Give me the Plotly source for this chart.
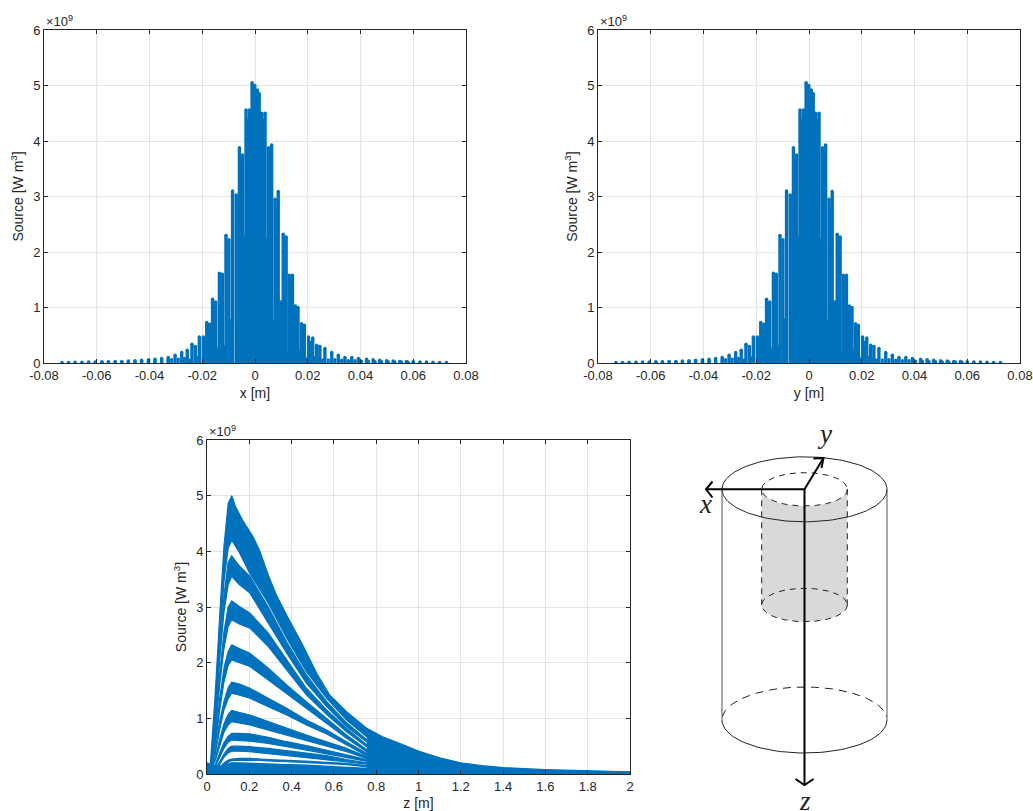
import numpy as np
import plotly.graph_objects as go

BLUE = "#0072BD"
INK = "#262626"
GRID = "#e4e4e4"
FONT = "Liberation Sans"

# ---- x / y profiles (same values on both top panels), Source in 1e9 W/m3
col_x = [-.0732,-.0707,-.0682,-.0656,-.0631,-.0606,-.0581,-.0556,-.0530,-.0505,-.0480,-.0455,-.0430,-.0404,
         -.0379,-.0354,-.0329,-.0303,-.0278,-.0257,-.0239,-.0226,-.0211,-.0196,-.0183,-.0172,-.0161,-.0149,
         -.0135,-.0124,-.0110,-.0099,-.0085,-.0071,-.0059,-.0047,-.0034,-.0021,-.0011,-.0001,.0009,.0016,
         .0025,.0038,.0051,.0063,.0076,.0088,.0107,.0118,.0130,.0142,.0153,.0163,.0176,.0187,.0203,.0219,
         .0234,.0246,.0265,.0291,.0316,.0341,.0367,.0392,.0423,.0448,.0473,.0499,.0524,.0549,.0574,.0600,
         .0625,.0650,.0675,.0700,.0726]
col_h = [.010,.012,.014,.015,.017,.020,.022,.025,.028,.030,.035,.040,.050,.060,
         .070,.080,.100,.140,.190,.230,.340,.300,.470,.470,.730,.700,1.15,1.10,
         1.62,1.60,2.30,2.22,3.10,3.03,3.88,3.75,4.56,4.56,5.05,5.00,4.92,4.85,
         4.50,4.50,3.88,3.93,2.95,3.09,2.32,2.27,1.58,1.58,1.03,1.00,.710,.680,.470,.450,
         .320,.300,.260,.190,.140,.100,.100,.080,.070,.060,.050,.040,.035,.030,.028,.025,
         .020,.018,.015,.012,.010]
fill_x = [-.0580,-.0555,-.0530,-.0505,-.0480,-.0455,-.0430,-.0404,-.0379,-.0354,-.0329,-.0316,-.0291,-.0268,
          -.0247,-.0217,-.0188,-.0166,-.0142,-.0117,-.0091,-.0065,-.0041,-.0028,-.0016,.0004,.0020,.0031,
          .0044,.0070,.0082,.0097,.0112,.0124,.0136,.0148,.0158,.0170,.0195,.0211,.0226,.0240,.0256,.0278,
          .0303,.0329,.0354,.0379,.0404,.0430,.0455,.0480,.0505,.0530,.0555,.0580]
fill_h = [.015,.018,.020,.020,.022,.025,.030,.030,.035,.040,.050,.060,.070,.080,
          .080,.120,.200,.220,.280,.320,.800,.760,2.30,4.40,4.50,4.80,4.50,4.40,
          2.25,.780,2.80,1.13,2.20,.170,1.50,.250,.950,.250,.100,.400,.120,.100,.080,.080,
          .060,.050,.040,.040,.030,.030,.025,.022,.020,.020,.018,.015]

# ---- z profile: ring bands (upper and lower edges), Source in 1e9 W/m3
z_grid = [.015,.04,.06,.08,.10,.117,.15,.203,.29,.377,.47,.566,.66,.755]
b1_z   = [.015,.038,.061,.08,.10,.117,.135,.17,.22,.25,.29,.33,.377,.41,.455,.487,.52,.58,.66,.755]
b1_top = [.13,1.39,2.90,4.08,4.86,5.00,4.80,4.55,4.25,4.00,3.57,3.20,2.85,2.62,2.30,2.05,1.80,1.42,1.12,.82]
b1_bot = [.05,1.15,2.40,3.45,4.05,4.20,4.00,3.60,3.07,2.44,1.84,1.36,.97,.67]
b2_top = [.05,1.05,2.25,3.20,3.80,3.92,3.75,3.55,3.00,2.37,1.78,1.30,.92,.62]
b2_bot = [.05,.95,2.05,2.90,3.40,3.55,3.41,3.25,2.71,2.17,1.63,1.21,.85,.58]
b3_top = [.05,.85,1.80,2.55,3.00,3.11,3.02,2.89,2.53,2.05,1.54,1.15,.82,.53]
b3_bot = [.05,.75,1.60,2.25,2.65,2.77,2.70,2.62,2.29,1.87,1.42,1.07,.76,.49]
b4_top = [.05,.65,1.35,1.90,2.20,2.32,2.26,2.17,1.90,1.60,1.30,1.00,.70,.44]
b4_bot = [.05,.55,1.15,1.65,1.95,2.05,2.00,1.93,1.69,1.45,1.18,.91,.64,.40]
b5_top = [.05,.45,.95,1.30,1.55,1.65,1.62,1.54,1.36,1.18,.97,.79,.58,.37]
b5_bot = [.05,.38,.80,1.15,1.35,1.45,1.42,1.36,1.21,1.06,.88,.72,.52,.33]
b6_top = [.05,.30,.62,.90,1.07,1.14,1.11,1.06,.94,.82,.70,.58,.46,.31]
b6_bot = [.05,.25,.50,.75,.88,.94,.92,.88,.79,.70,.60,.50,.40,.28]
b7_top = [.05,.18,.38,.56,.68,.73,.73,.72,.66,.58,.51,.43,.35,.26]
b7_bot = [.05,.14,.30,.46,.57,.61,.60,.59,.55,.49,.43,.37,.30,.23]
b8_top = [.05,.10,.22,.36,.46,.50,.50,.49,.46,.42,.37,.33,.26,.20]
b8_bot = [.05,.08,.17,.30,.38,.41,.41,.40,.37,.34,.30,.26,.22,.18]
b9_top = [.03,.06,.12,.20,.25,.27,.28,.28,.26,.25,.23,.21,.19,.15]
b9_bot = [.02,.05,.10,.16,.21,.24,.245,.25,.235,.22,.205,.19,.17,.13]
bands = [(b2_top,b2_bot),(b3_top,b3_bot),(b4_top,b4_bot),(b5_top,b5_bot),
         (b6_top,b6_bot),(b7_top,b7_bot),(b8_top,b8_bot),(b9_top,b9_bot)]
base_z = [0,.015,.04,.06,.08,.10,.117,.15,.203,.29,.377,.47,.566,.66,.755]
base_top = [.20,.18,.14,.14,.16,.18,.20,.20,.19,.18,.17,.16,.14,.12,.10]
tail_z = [.755,.83,.91,1.0,1.1,1.2,1.3,1.4,1.6,1.8,2.0]
tail_top = [.82,.67,.55,.41,.29,.20,.15,.115,.08,.055,.04]
floor_z = [0,2]
floor_v = [0,0]

x_ticks = [-.08,-.06,-.04,-.02,0,.02,.04,.06,.08]
x_labels = ["-0.08","-0.06","-0.04","-0.02","0","0.02","0.04","0.06","0.08"]
y_ticks = [0,1,2,3,4,5,6]
z_ticks = [0,.2,.4,.6,.8,1,1.2,1.4,1.6,1.8,2]
z_labels = ["0","0.2","0.4","0.6","0.8","1","1.2","1.4","1.6","1.8","2"]

# ---- cylinder sketch, in the sketch's own coordinates
cx, rx_out, rx_in, ry_out, ry_in = 804.5, 82.5, 42.8, 32.5, 16.7
y_top, y_bot, y_inner_bot = 489.3, 720.0, 605.0

W, H = 1033, 811
def dom_x(a, b): return [a / W, b / W]
def dom_y(t, b): return [1 - b / H, 1 - t / H]

fig = go.Figure()
panels = [("x", "y", 44, 466, 30, 363), ("x2", "y2", 598, 1020, 30, 363), ("x3", "y3", 207, 630, 440, 774)]

def axis_style(vals, text, rng, title, standoff):
    return dict(range=rng, tickvals=vals, ticktext=text, ticks="inside", ticklen=4, tickwidth=1,
                tickcolor=INK, showline=True, linecolor=INK, linewidth=1, mirror="allticks",
                showgrid=True, gridcolor=GRID, gridwidth=1, zeroline=False, automargin=False,
                tickfont=dict(family=FONT, size=13, color=INK),
                title=dict(text=title, font=dict(family=FONT, size=14, color=INK), standoff=standoff))

layout = dict(width=W, height=H, margin=dict(l=0, r=0, t=0, b=0), showlegend=False,
              paper_bgcolor="white", plot_bgcolor="white", hovermode=False)
for (xa, ya, l, r, t, b), xt in zip(panels, ["x [m]", "y [m]", "z [m]"]):
    xname = "xaxis" + xa[1:]
    yname = "yaxis" + ya[1:]
    if xt == "z [m]":
        layout[xname] = axis_style(z_ticks, z_labels, [0, 2], xt, 6)
    else:
        layout[xname] = axis_style(x_ticks, x_labels, [-.08, .08], xt, 6)
    layout[xname].update(domain=dom_x(l, r), anchor=ya)
    layout[yname] = axis_style(y_ticks, [str(v) for v in y_ticks], [0, 6], "Source [W m<sup>3</sup>]", 6)
    layout[yname].update(domain=dom_y(t, b), anchor=xa)
layout["xaxis4"] = dict(domain=dom_x(680, 910), range=[680, 910], visible=False, anchor="y4")
layout["yaxis4"] = dict(domain=dom_y(420, 811), range=[811, 420], visible=False, anchor="x4")
fig.update_layout(**layout)

def columns(xs, hs):
    X, Y = [], []
    for a, h in zip(xs, hs):
        X += [a, a, None]
        Y += [0, h, None]
    return X, Y

for xa, ya in [("x", "y"), ("x2", "y2")]:
    fx, fy = columns(fill_x, fill_h)
    fig.add_trace(go.Scatter(x=fx, y=fy, xaxis=xa, yaxis=ya, mode="lines", line=dict(color=BLUE, width=2.8)))
    cxs, cys = columns(col_x, col_h)
    fig.add_trace(go.Scatter(x=cxs, y=cys, xaxis=xa, yaxis=ya, mode="lines", line=dict(color=BLUE, width=3.4)))
    fig.add_trace(go.Scatter(x=col_x + fill_x[:14] + fill_x[-12:], y=col_h + fill_h[:14] + fill_h[-12:],
                             xaxis=xa, yaxis=ya, mode="markers", cliponaxis=False,
                             marker=dict(color=BLUE, size=3.4, line=dict(width=0))))

def band(zs, top, zb, bot):
    return go.Scatter(x=list(zs) + list(zb)[::-1], y=list(top) + list(bot)[::-1], xaxis="x3", yaxis="y3",
                      mode="lines", fill="toself", fillcolor=BLUE, line=dict(color=BLUE, width=1.2))

fig.add_trace(go.Scatter(x=floor_z, y=floor_v, xaxis="x3", yaxis="y3", mode="lines", cliponaxis=False,
                         line=dict(color=BLUE, width=3)))
fig.add_trace(band(base_z, base_top, base_z, [0] * len(base_z)))
fig.add_trace(band(tail_z, tail_top, tail_z, [0] * len(tail_z)))
fig.add_trace(band(b1_z, b1_top, z_grid, b1_bot))
for top, bot in bands:
    fig.add_trace(band(z_grid, top, z_grid, bot))

# sketch
def sk(xs, ys, width=1, color="black", dash=None, **kw):
    fig.add_trace(go.Scatter(x=list(xs), y=list(ys), xaxis="x4", yaxis="y4", mode="lines",
                             line=dict(color=color, width=width, dash=dash or "solid"), **kw))

tf = np.linspace(0, np.pi, 60)        # front half
inner_x = cx + rx_in * np.cos(tf)
sk(np.r_[inner_x, inner_x[::-1]],
   np.r_[y_top + ry_in * np.sin(tf), (y_inner_bot + ry_in * np.sin(tf))[::-1]],
   width=0, color="#d9d9d9", fill="toself", fillcolor="#d9d9d9")
# outer cylinder
ta = np.linspace(0, 2 * np.pi, 140)
sk(cx + rx_out * np.cos(ta), y_top + ry_out * np.sin(ta), width=1, color="#222222")
sk([cx - rx_out, cx - rx_out], [y_top, y_bot], width=1, color="#555555")
sk([cx + rx_out, cx + rx_out], [y_top, y_bot], width=1, color="#555555")
sk(cx + rx_out * np.cos(tf), y_bot + 33 * np.sin(tf), width=1, color="#222222")
tbb = np.linspace(np.pi + .1, 2 * np.pi - .1, 60)
sk(cx + rx_out * np.cos(tbb), y_bot + 33 * np.sin(tbb), width=1, color="#222222", dash="8px,6px")
# inner cylinder
dsh = "6px,5px"
sk(cx + rx_in * np.cos(ta), y_top + ry_in * np.sin(ta), width=1, color="#222222", dash=dsh)
sk([cx - rx_in, cx - rx_in], [y_top, y_inner_bot], width=1, color="#222222", dash=dsh)
sk([cx + rx_in, cx + rx_in], [y_top, y_inner_bot], width=1, color="#222222", dash=dsh)
sk(cx + rx_in * np.cos(ta), y_inner_bot + ry_in * np.sin(ta), width=1, color="#222222", dash=dsh)
# axes arrows
sk([cx, 706], [y_top, y_top], width=2)
sk([712.5, 706, 712.5], [481.5, y_top, 497.5], width=2)
sk([cx, 823.5], [y_top, 458], width=2)
sk([813.5, 823.5, 821.5], [458.5, 458, 468], width=2)
sk([cx, cx], [y_top, 784], width=2)
sk([795.5, cx, 813.5], [779, 785, 779], width=2)

for txt, px, py in [("x", 705.5, 504), ("y", 824, 434), ("z", 805, 801)]:
    fig.add_annotation(x=px, y=py, xref="x4", yref="y4", text="<i>%s</i>" % txt, showarrow=False,
                       font=dict(family="Liberation Serif", size=27, color="#222222"))

# exponent labels
for px, py in [(44, 21), (598, 21), (207, 431)]:
    fig.add_annotation(x=px / W, y=1 - py / H, xref="paper", yref="paper", xanchor="left", yanchor="middle",
                       text="×10<sup>9</sup>", showarrow=False, font=dict(family=FONT, size=13, color=INK))

fig.write_html("out.html", config={"displayModeBar": False},
               post_script="document.body.style.margin='0';document.documentElement.style.overflow='hidden';")
